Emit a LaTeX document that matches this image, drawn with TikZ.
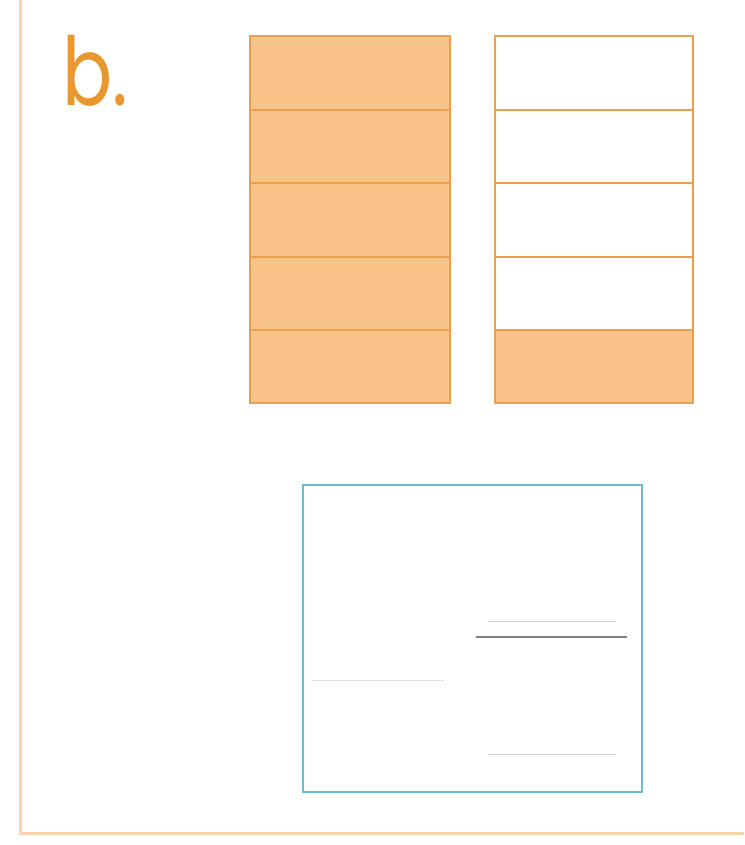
\documentclass[tikz,border=0pt]{standalone}
\usepackage{fontspec}
\newfontfamily\labelfont{Poppins}
\definecolor{barfill}{HTML}{F9C48A}
\definecolor{barline}{HTML}{EE9E4C}
\definecolor{framecol}{HTML}{F8D3AE}
\definecolor{boxblue}{HTML}{6BBBD0}
\definecolor{letter}{HTML}{E8962E}
\begin{document}
\begin{tikzpicture}[x=1pt,y=-1pt,
  barbox/.style={draw=barline,line width=2pt},
  divider/.style={draw=barline,line width=2.6pt},
  faint/.style={draw=black!18,line width=1pt}]
\useasboundingbox (0,0) rectangle (744,845);
\fill[white] (0,0) rectangle (744,845);
% outer frame
\draw[framecol,line width=3pt] (20,0) -- (20,833) -- (744,833);
% label
\node[anchor=base west,inner sep=0pt,text=letter,xscale=0.78,font=\labelfont\fontsize{95}{95}\selectfont] (lab) at (62,106) {b.};
% left bar
\path[fill=barfill] (250,36) rectangle (450,403);
\foreach \yy in {110,183,257,330} \draw[divider] (250,\yy) -- (450,\yy);
\node[barbox,minimum width=200pt,minimum height=367pt,inner sep=0pt] (left) at (350,219.5) {};
% right bar
\path[fill=barfill] (495,330) rectangle (693,403);
\foreach \yy in {110,183,257,330} \draw[divider] (495,\yy) -- (693,\yy);
\node[barbox,minimum width=198pt,minimum height=367pt,inner sep=0pt] (right) at (594,219.5) {};
% blue box
\node[draw=boxblue,line width=2.2pt,minimum width=339pt,minimum height=307pt,inner sep=0pt] (box) at (472.5,638.5) {};
\draw[faint] (488,621) -- (616,621);
\draw[black!50,line width=2.4pt] (476,637) -- (627,637);
\draw[black!15,line width=1pt,dash pattern=on 3pt off 1pt] (313,680) -- (445,680);
\draw[faint] (488,754) -- (616,754);
\end{tikzpicture}
\end{document}
